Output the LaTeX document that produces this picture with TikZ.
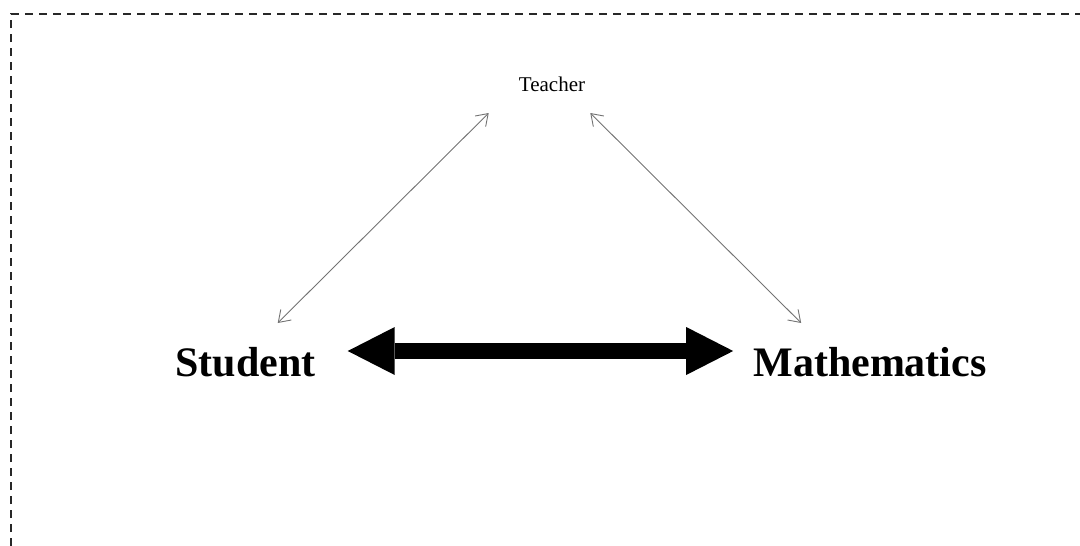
\documentclass[tikz,border=0pt]{standalone}
\usepackage{fontspec}
\setmainfont{Liberation Serif}
\usetikzlibrary{arrows.meta}
\definecolor{thingray}{RGB}{115,115,115}
\definecolor{bordergray}{RGB}{40,40,40}
\begin{document}
\begin{tikzpicture}[x=1pt,y=-1pt,
  bigword/.style={inner sep=0pt,anchor=base,font=\fontsize{42}{50}\selectfont\bfseries},
  smallword/.style={inner sep=0pt,anchor=base,font=\fontsize{21}{25}\selectfont},
  thinlink/.style={draw=thingray,line width=0.9pt,
    {Straight Barb[length=11pt,width=15pt]}-{Straight Barb[length=11pt,width=15pt]}},
  thicklink/.style={draw=black,line width=16.5pt,
    {Triangle[length=47pt,width=48pt,line width=0pt]}-{Triangle[length=47pt,width=48pt,line width=0pt]}},
  frame/.style={draw=bordergray,line width=2.6pt,dash pattern=on 8pt off 6pt}]
\useasboundingbox (0,0) rectangle (1080,546);
\draw[frame] (11,560) -- (11,14) -- (1095,14);
\node[smallword] (tea) at (552,91) {Teacher};
\node[bigword] (stu) at (245.5,376) {Student};
\node[bigword] (mat) at (870,376) {Mathematics};
\draw[thinlink] ([shift={(-38,-53)}]stu.base east) -- ([shift={(-30,22)}]tea.base west);
\draw[thinlink] ([shift={(48,-53)}]mat.base west) -- ([shift={(5,22)}]tea.base east);
\draw[thicklink] ([shift={(32,-25)}]stu.base east) -- ([shift={(-20,-25)}]mat.base west);
\end{tikzpicture}
\end{document}
